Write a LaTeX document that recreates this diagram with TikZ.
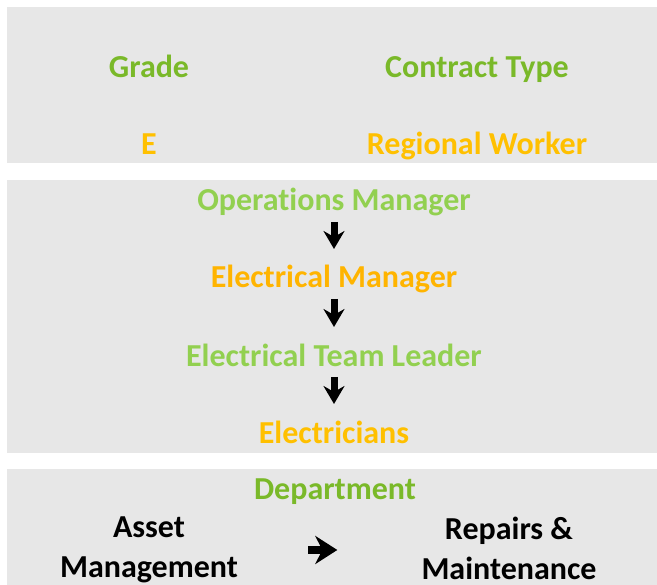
\documentclass[tikz,border=0pt]{standalone}
\usepackage{fontspec}
\setmainfont{Carlito}[Ligatures=NoCommon]
\usetikzlibrary{arrows.meta}
\definecolor{panelgray}{HTML}{E7E7E7}
\definecolor{darkgreen}{HTML}{7AB929}
\definecolor{lightgreen}{HTML}{92D050}
\definecolor{gold}{HTML}{FFC000}
\definecolor{amber}{HTML}{FFB400}

\begin{document}
\begin{tikzpicture}[x=1pt, y=1pt]
    % 设置样式
    \tikzset{
        panel/.style={fill=panelgray, draw=none},
        label/.style={font=\fontsize{32}{40}\selectfont\bfseries, inner sep=0pt, anchor=base},
        head/.style={label, text=darkgreen},
        role/.style={label, text=lightgreen},
        value/.style={label, text=gold},
        arr/.style={line width=7pt, -{Stealth[length=18pt, width=21pt, inset=6pt]}},
    }

    % 画布大小
    \path[use as bounding box] (0,0) rectangle (657,585);

    % 灰色面板
    \fill[panel] (7,422) rectangle (657,578);
    \fill[panel] (7,132) rectangle (657,405);
    \fill[panel] (7,0) rectangle (657,116);

    % 第一块: 等级和合同类型
    \node[head] (grade) at (149,507) {Grade};
    \node[head] (contract) at (477,507) {Contract Type};
    \node[value] (gval) at (149,430) {E};
    \node[value] (cval) at (477,430) {Regional Worker};

    % 第二块: 汇报关系
    \node[role] (om) at (334,374) {Operations Manager};
    \node[value, text=amber] (em) at (334,297) {Electrical Manager};
    \node[role] (etl) at (334,218) {Electrical Team Leader};
    \node[value] (el) at (334,141) {Electricians};

    \draw[arr] ([yshift=-11pt]om.base) -- ([yshift=39pt]em.base);
    \draw[arr] ([yshift=-11pt]em.base) -- ([yshift=40pt]etl.base);
    \draw[arr] ([yshift=-10pt]etl.base) -- ([yshift=40pt]el.base);

    % 第三块: 部门
    \node[head] (dept) at (335,85) {Department};
    \node[label, anchor=north, align=center] (am) at (149,68) {Asset\\Management};
    \node[label, anchor=north, align=center] (rm) at (509,68) {Repairs \&\\Maintenance};

    \draw[arr, line width=8pt, -{Stealth[length=22pt, width=28pt, inset=7pt]}]
        ([xshift=70pt]am.east |- 0,35) -- ([xshift=-84pt]rm.west |- 0,35);
\end{tikzpicture}
\end{document}
